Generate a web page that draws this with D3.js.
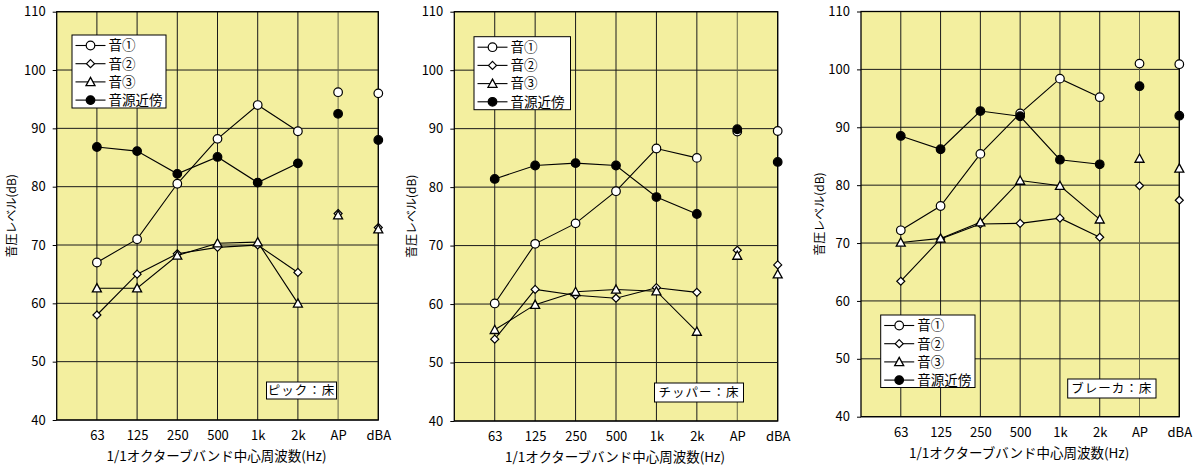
<!DOCTYPE html>
<html><head><meta charset="utf-8">
<script src="https://cdn.jsdelivr.net/npm/d3@7"></script>
<style>
html,body{margin:0;padding:0;background:#fff;}
svg{display:block;}
text{font-family:"Noto Sans CJK JP","Noto Sans",sans-serif;fill:#000;}
</style></head><body>
<svg id="c" width="1196" height="467"></svg>
<script>
const categories = ["63","125","250","500","1k","2k","AP","dBA"];
const yTicks = [40,50,60,70,80,90,100,110];
const seriesNames = ["音①","音②","音③","音源近傍"];
const xTitle = "1/1オクターブバンド中心周波数(Hz)";
const yTitle = "音圧レベル(dB)";
const panelLabels = ["ピック：床","チッパー：床","ブレーカ：床"];

// ピック：床
const pickS1 = [67.0,71.0,80.5,88.2,94.0,89.5,96.2,96.0];
const pickS2 = [58.0,65.0,68.5,69.6,70.0,65.3,75.4,73.0];
const pickS3 = [62.6,62.6,68.2,70.3,70.5,60.0,75.1,72.7];
const pickSrc = [86.8,86.1,82.2,85.1,80.7,84.0,92.5,88.0];
// チッパー：床
const chipS1 = [60.1,70.3,73.8,79.3,86.6,85.0,89.5,89.6];
const chipS2 = [54.0,62.5,61.5,61.0,62.8,62.0,69.2,66.7];
const chipS3 = [55.6,59.9,62.1,62.5,62.2,55.3,68.3,65.1];
const chipSrc = [81.4,83.7,84.1,83.7,78.3,75.4,89.9,84.3];
// ブレーカ：床
const brkS1 = [72.2,76.4,85.4,92.4,98.4,95.2,101.0,100.9];
const brkS2 = [63.4,70.7,73.3,73.4,74.3,71.0,79.9,77.4];
const brkS3 = [70.1,70.8,73.6,80.8,79.9,74.1,84.6,82.9];
const brkSrc = [88.5,86.2,92.8,91.9,84.4,83.6,97.1,92.0];

const panelData = [
  [pickS1,pickS2,pickS3,pickSrc],
  [chipS1,chipS2,chipS3,chipSrc],
  [brkS1,brkS2,brkS3,brkSrc]
];

// layout (not data)
const layout = [
  {l:56.7,r:378.3,t:11.7,b:420,  leg:{x:72,y:35,w:94,h:73},   lab:{x:266.5,y:382,w:70,h:17}, yt:12},
  {l:454.3,r:777.7,t:11.7,b:421, leg:{x:474,y:36.7,w:96.5,h:73}, lab:{x:654.5,y:383,w:89,h:19}, yt:412},
  {l:861,r:1179.3,t:11.5,b:416.7, leg:{x:880.7,y:315,w:94.3,h:72.5}, lab:{x:1067.7,y:379,w:88.3,h:19}, yt:820}
];

const svg = d3.select("#c");
const PLOT_BG = "#F3EF9F";
const markerTypes = ["circle","diamond","triangle","filled"];

function drawMarker(g, type, x, y){
  if(type==="circle"||type==="filled"){
    g.append("circle").attr("cx",x).attr("cy",y).attr("r",4.3)
      .attr("fill", type==="filled"?"#000":"#fff").attr("stroke","#000").attr("stroke-width",1.2);
  } else if(type==="diamond"){
    const s=4;
    g.append("path").attr("d",`M${x},${y-s}L${x+s},${y}L${x},${y+s}L${x-s},${y}Z`)
      .attr("fill","#fff").attr("stroke","#000").attr("stroke-width",1.2);
  } else {
    g.append("path").attr("d",`M${x},${y-4.5}L${x+4.5},${y+3.7}L${x-4.5},${y+3.7}Z`)
      .attr("fill","#fff").attr("stroke","#000").attr("stroke-width",1.3);
  }
}

layout.forEach((L,pi)=>{
  const g = svg.append("g");
  const x = d3.scalePoint().domain(["",...categories]).range([L.l, L.r]);
  const y = d3.scaleLinear().domain([40,110]).range([L.b, L.t]);

  g.append("rect").attr("x",L.l).attr("y",L.t).attr("width",L.r-L.l).attr("height",L.b-L.t)
    .attr("fill",PLOT_BG);

  // horizontal grid
  g.append("g").selectAll("line").data(yTicks).join("line")
    .attr("x1",L.l).attr("x2",L.r).attr("y1",d=>y(d)).attr("y2",d=>y(d))
    .attr("stroke","#1a1a1a").attr("stroke-width",1);
  // vertical grid
  g.append("g").selectAll("line").data(categories).join("line")
    .attr("x1",d=>x(d)).attr("x2",d=>x(d)).attr("y1",L.t).attr("y2",L.b)
    .attr("stroke",(d,i)=> i>=6 ? "#6b6b4a" : "#1a1a1a").attr("stroke-width",1);

  // frame
  g.append("rect").attr("x",L.l).attr("y",L.t).attr("width",L.r-L.l).attr("height",L.b-L.t)
    .attr("fill","none").attr("stroke","#000").attr("stroke-width",1.3);

  // y axis
  const yAxis = d3.axisLeft(y).tickValues(yTicks).tickSize(4).tickPadding(7);
  const ya = g.append("g").attr("transform",`translate(${L.l},0)`).call(yAxis);
  ya.select(".domain").remove();
  ya.selectAll("line").attr("stroke","#000");
  ya.selectAll("text").attr("font-size",13).attr("font-family","'Liberation Sans Narrow','DejaVu Sans Condensed','Noto Sans CJK JP',sans-serif");

  // x axis labels
  const xAxis = d3.axisBottom(x).tickValues(categories).tickSize(0).tickPadding(11);
  const xa = g.append("g").attr("transform",`translate(0,${L.b})`).call(xAxis);
  xa.select(".domain").remove();
  xa.selectAll("text").attr("font-size",13).attr("font-family","'Liberation Sans Narrow','DejaVu Sans Condensed','Noto Sans CJK JP',sans-serif");

  // titles
  g.append("text").attr("x",(L.l + L.r)/2 - 1).attr("y",L.b+41)
    .attr("text-anchor","middle").attr("font-size",13.5).text(xTitle);
  g.append("text").attr("transform",`translate(${L.yt+4},${(L.t+L.b)/2}) rotate(-90)`)
    .attr("text-anchor","middle").attr("font-size",12).text(yTitle);

  // series
  const line = d3.line().x((d,i)=>x(categories[i])).y(d=>y(d));
  const dat = panelData[pi];
  dat.forEach((vals,si)=>{
    const sg = g.append("g");
    sg.append("path").attr("d",line(vals.slice(0,6))).attr("fill","none").attr("stroke","#000").attr("stroke-width",1.1);
    vals.forEach((v,i)=>drawMarker(sg, markerTypes[si], x(categories[i]), y(v)));
  });

  // legend
  const lg = g.append("g");
  lg.append("rect").attr("x",L.leg.x).attr("y",L.leg.y).attr("width",L.leg.w).attr("height",L.leg.h)
    .attr("fill","#fff").attr("stroke","#000").attr("stroke-width",1);
  seriesNames.forEach((n,si)=>{
    const ry = L.leg.y + 10.5 + si*18.2;
    const lx = L.leg.x + 3.5;
    lg.append("line").attr("x1",lx).attr("x2",lx+30).attr("y1",ry).attr("y2",ry).attr("stroke","#000").attr("stroke-width",1.1);
    drawMarker(lg, markerTypes[si], lx+15, ry);
    lg.append("text").attr("x",lx+33).attr("y",ry).attr("dy","0.36em").attr("font-size",13.5).text(n);
  });

  // panel label
  g.append("rect").attr("x",L.lab.x).attr("y",L.lab.y).attr("width",L.lab.w).attr("height",L.lab.h)
    .attr("fill","#fff").attr("stroke","#000").attr("stroke-width",1);
  g.append("text").attr("x",L.lab.x+L.lab.w/2).attr("y",L.lab.y+L.lab.h/2).attr("dy","0.36em")
    .attr("text-anchor","middle").attr("font-size",12.5).attr("letter-spacing",1).text(panelLabels[pi]);
});
</script>
</body></html>
